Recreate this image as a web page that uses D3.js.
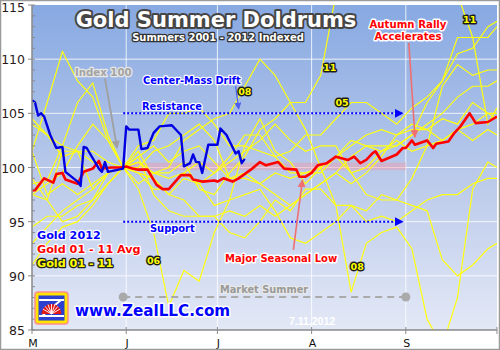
<!DOCTYPE html>
<html>
<head>
<meta charset="utf-8">
<script src="https://cdn.jsdelivr.net/npm/d3@7"></script>
<style>
  html, body { margin: 0; padding: 0; background: #fff; }
  svg { display: block; font-family: "DejaVu Sans", Verdana, sans-serif; }
</style>
</head>
<body>
<div id="chart"></div>
<script>
// ---- data -----------------------------------------------------------------
var yearDates = ["05/01","05/06","05/11","05/16","05/21","05/26","05/31","06/05",
  "06/10","06/15","06/20","06/25","06/30","07/05","07/10","07/15","07/20","07/25",
  "07/30","08/04","08/09","08/14","08/19","08/24","08/29","09/03","09/08","09/13",
  "09/18","09/23","09/28","10/01"];

var gold01 = [98.5,98.8,102,106,107.8,103,100,101,102,100.5,101.5,102,100.5,99,99.5,98.5,
  99.5,99,99.5,100,101,102.5,102,101.5,102.5,101.5,102,107.5,109.5,108.5,109,109];
var gold02 = [94.5,95.5,95.5,96.5,97,98.5,100,99.5,99,97.5,99,98.5,96.5,97,97.5,98,
  96,93.5,93,94,95,96.5,95,95.5,95,96,97,97.5,97.5,98.5,99,99];
var gold03 = [93,94.5,96,97,98,99.5,100,101.5,99,97.5,97,95.5,95.5,96,95.5,96.5,
  95.5,96.5,97.5,98.5,99.5,98.5,99.5,101,103,103.5,103.5,104.5,104,106,105,104.5];
var gold04 = [99,97,95,95.5,97,99.5,100,99.5,98,98,99.5,100.5,99.5,101,103,103,
  101,99.5,99.5,99.5,101,102,103,103.5,103,104,103.5,102.5,103.5,104,105,105];
var gold05 = [104.5,103,101,101.5,100.5,100,100,102,102.5,105,105,105.5,104,102,102,101.5,
  101,101.5,103,103,104.5,106,106,105,104,105.5,106.5,108,112,112,112,113];
var gold06 = [101.5,106,110.7,108,106.5,102.5,100,98,94,87.2,90.5,89.5,94,97,102,104.5,
  101.5,100.5,98.5,100,101,99.5,97.5,97,97,96.5,96,91.5,90,91,92.5,93];
var gold07 = [104,103,102,101.5,101.5,100.5,100,100.5,99.5,99,99.5,98.5,99.5,100.5,101.5,102.5,
  104,102.5,101.5,102,102,99.5,100,101.5,102,103,106,108,110.5,111,113,113.5];
var gold08 = [97.5,98.5,99.5,102,104,102.5,100,98.5,99.5,100,102.5,103.5,104.5,105,107.5,110,
  108.5,106,103.5,100,96.5,88.5,93,94,94.5,92.5,86,83.5,88,98,100.5,100];
var gold09 = [91,93,94.5,95,96.5,98.5,100,101,97.5,96,95.5,95.5,95.5,94,93.5,95,
  97,96,98,98,96.5,96.5,96,97.5,97,99,102,102.5,103.5,102.5,103.5,103];
var gold10 = [97.5,97,101.5,101.5,98,99.5,100,100,101.5,102,103,104,102.5,99,99,98.5,
  97.5,96.5,97.5,98.5,99.5,101,102,102,102,103,104,105,106.5,107.5,107.5,108];
var gold11 = [101.5,97.5,98.5,97.5,98.5,99.5,100,100.5,99.5,99.5,100.5,98,97.5,99.5,101,103.5,
  104.5,106,106,108.5,116,118,120,122,119,122,120,118,116,112,104,105.5];

var avgDates = ["05/01","05/02","05/05","05/08","05/09","05/11","05/12","05/16","05/18",
  "05/21","05/23","05/24","05/27","05/30","06/01","06/03","06/05","06/08","06/11","06/13",
  "06/15","06/19","06/22","06/23","06/26","06/30","07/01","07/03","07/06","07/08","07/12",
  "07/15","07/17","07/21","07/23","07/27","07/28","07/30","08/01","08/03","08/06","08/09",
  "08/13","08/15","08/17","08/19","08/21","08/22","08/24","08/29","08/31","09/01","09/03",
  "09/04","09/08","09/10","09/11","09/15","09/17","09/19","09/22","09/24","09/28","10/01"];
var avgValues = [97.9,97.9,99.0,98.6,99.4,99.5,98.9,98.5,99.6,99.9,100.6,99.9,100.0,100.0,
  100.1,99.9,99.8,99.8,98.4,98.0,98.0,99.3,99.3,98.9,98.7,98.8,98.7,99.0,98.7,99.0,99.8,
  100.5,100.2,100.5,99.9,99.8,99.15,99.15,99.5,100.2,100.4,101.0,100.7,101.0,100.4,100.7,
  101.3,101.5,100.6,101.2,101.8,101.8,102.5,102.1,102.5,101.8,102.2,102.4,103.2,103.8,
  105.0,104.1,104.2,104.7];

var g12Dates = ["05/01","05/02","05/03","05/04","05/05","05/07","05/09","05/11","05/12",
  "05/16","05/17","05/18","05/19","05/23","05/24","05/25","05/26","05/31","06/01","06/02",
  "06/05","06/06","06/08","06/10","06/12","06/16","06/19","06/20","06/22","06/23","06/24",
  "06/25","06/26","06/28","07/01","07/02","07/04","07/07","07/08","07/09","07/10"];
var g12Values = [106.2,106.0,104.8,105.0,104.7,103.0,101.8,101.9,99.6,98.7,98.3,101.9,101.8,
  99.9,99.6,100.5,99.6,99.9,103.8,103.5,103.5,101.7,101.8,103.2,103.8,103.9,103.0,100.1,
  100.4,101.2,100.5,100.5,99.5,102.1,102.1,103.6,103.0,101.3,101.5,100.4,100.8];

var yTicks = [85, 90, 95, 100, 105, 110, 115];
var monthTicks = ["05/01", "06/01", "07/01", "08/01", "09/01"];
var monthLabels = ["M", "J", "J", "A", "S"];

// year tags placed on the lines: [date, value, label]
var yearTags = [["07/10", 107.0, "08"], ["08/07", 109.2, "11"], ["08/11", 106.0, "05"],
  ["06/10", 91.4, "06"], ["08/16", 90.9, "08"], ["09/22", 113.7, "11"]];

// ---- chart ----------------------------------------------------------------
var W = 500, H = 350, M = { t: 5, r: 3, b: 20, l: 32 };
var parse = d3.timeParse("%m/%d");

var svg = d3.select("#chart").append("svg").attr("width", W).attr("height", H);
var defs = svg.append("defs");

var grad = defs.append("linearGradient").attr("id", "bg")
  .attr("x1", 0).attr("y1", 0).attr("x2", 0).attr("y2", 1);
grad.append("stop").attr("offset", "0%").attr("stop-color", "#87a9e2");
grad.append("stop").attr("offset", "55%").attr("stop-color", "#bccbeb");
grad.append("stop").attr("offset", "100%").attr("stop-color", "#e3e8f6");

defs.append("clipPath").attr("id", "plotclip").append("rect")
  .attr("x", M.l).attr("y", M.t).attr("width", W - M.r - M.l).attr("height", H - M.b - M.t);

function marker(id, col, size) {
  defs.append("marker").attr("id", id).attr("viewBox", "0 0 10 10")
    .attr("refX", 9).attr("refY", 5).attr("markerWidth", size).attr("markerHeight", size)
    .attr("markerUnits", "userSpaceOnUse").attr("orient", "auto")
    .append("path").attr("d", "M0,0L10,5L0,10Z").attr("fill", col);
}
marker("arBlue", "#0000ff", 9);
marker("arGray", "#a0a0a0", 8);
marker("arRed", "#ee7070", 8);
marker("arBlue2", "#4b5ef0", 7);

var x = d3.scaleTime().domain([parse("05/01"), parse("10/01")]).range([M.l, W - M.r]);
var y = d3.scaleLinear().domain([85, 115]).range([H - M.b, M.t]);

// plot background + grid
svg.append("rect").attr("x", M.l).attr("y", M.t)
  .attr("width", W - M.r - M.l).attr("height", H - M.b - M.t).attr("fill", "url(#bg)");

var grid = svg.append("g").attr("stroke", "#ffffff").attr("stroke-opacity", 0.8);
yTicks.slice(1, -1).forEach(function (v) {
  grid.append("line").attr("x1", M.l).attr("x2", W - M.r).attr("y1", y(v)).attr("y2", y(v));
});
monthTicks.slice(1).forEach(function (d) {
  grid.append("line").attr("x1", x(parse(d))).attr("x2", x(parse(d)))
    .attr("y1", M.t).attr("y2", H - M.b);
});

// pink "index 100" band
svg.append("rect").attr("x", x(parse("05/31"))).attr("y", y(100.45))
  .attr("width", x(parse("09/01")) - x(parse("05/31"))).attr("height", y(99.75) - y(100.45))
  .attr("fill", "#f09aa8").attr("fill-opacity", 0.45);

var plot = svg.append("g").attr("clip-path", "url(#plotclip)");

var years = [gold01, gold02, gold03, gold04, gold05, gold06, gold07, gold08, gold09, gold10, gold11];
var yLine = d3.line().x(function (d, i) { return x(parse(yearDates[i])); })
  .y(function (d) { return y(d); });
plot.selectAll("path.yr").data(years).enter().append("path").attr("class", "yr")
  .attr("d", yLine).attr("fill", "none").attr("stroke", "#ffff10").attr("stroke-width", 1.2);

// support / resistance
[105, 95].forEach(function (v) {
  svg.append("line").attr("x1", x(parse("05/31"))).attr("x2", x(parse("08/31")))
    .attr("y1", y(v)).attr("y2", y(v))
    .attr("stroke", "#0000ff").attr("stroke-width", 2).attr("stroke-dasharray", "2 2")
    .attr("marker-end", "url(#arBlue)");
});

var avgLine = d3.line().x(function (d, i) { return x(parse(avgDates[i])); })
  .y(function (d) { return y(d); });
plot.append("path").datum(avgValues).attr("d", avgLine).attr("fill", "none")
  .attr("stroke", "#ff0000").attr("stroke-width", 2.6).attr("stroke-linejoin", "round");

var g12Line = d3.line().x(function (d, i) { return x(parse(g12Dates[i])); })
  .y(function (d) { return y(d); });
plot.append("path").datum(g12Values).attr("d", g12Line).attr("fill", "none")
  .attr("stroke", "#0000e0").attr("stroke-width", 2.4).attr("stroke-linejoin", "round");

// axes
var ax = svg.append("g").attr("stroke", "#8a8a8a");
ax.append("line").attr("x1", M.l).attr("x2", M.l).attr("y1", M.t).attr("y2", H - M.b).attr("stroke-width", 1.5);
ax.append("line").attr("x1", M.l).attr("x2", W - M.r).attr("y1", H - M.b).attr("y2", H - M.b).attr("stroke-width", 1.5);
d3.range(85, 116).forEach(function (v) {
  var major = v % 5 === 0;
  ax.append("line").attr("x1", major ? M.l - 4 : M.l).attr("x2", M.l + 3)
    .attr("y1", y(v)).attr("y2", y(v));
});
monthTicks.concat(["10/01"]).forEach(function (d) {
  ax.append("line").attr("x1", x(parse(d))).attr("x2", x(parse(d)))
    .attr("y1", H - M.b - 3).attr("y2", H - M.b + 4);
});
svg.selectAll("text.yt").data(yTicks).enter().append("text").attr("class", "yt")
  .attr("x", 25).attr("y", function (d) { return Math.max(y(d) + 5, 12); })
  .attr("text-anchor", "end").attr("fill", "#2a1a1a").style("font-size", "12.5px").text(String);
svg.selectAll("text.xt").data(monthTicks).enter().append("text").attr("class", "xt")
  .attr("x", function (d) { return x(parse(d)) + 1; }).attr("y", 347)
  .attr("text-anchor", "middle").attr("fill", "#111").style("font-size", "11px")
  .text(function (d, i) { return monthLabels[i]; });

// ---- annotations ------------------------------------------------------------
function label(tx, ty, str, size, fill, stroke, sw, anchor) {
  return svg.append("text").attr("x", tx).attr("y", ty).text(str)
    .attr("text-anchor", anchor || "start").attr("fill", fill)
    .attr("stroke", stroke).attr("stroke-width", sw).attr("stroke-linejoin", "round")
    .attr("paint-order", "stroke").style("font-size", size + "px").style("font-weight", "bold");
}

function arrow(d0, v0, d1, v1, col, mk, w) {
  svg.append("line").attr("x1", x(parse(d0))).attr("y1", y(v0))
    .attr("x2", x(parse(d1))).attr("y2", y(v1))
    .attr("stroke", col).attr("stroke-width", w).attr("marker-end", "url(#" + mk + ")");
}
arrow("05/25", 108.2, "05/29", 101.8, "#a0a0a0", "arGray", 1.8);
arrow("07/07", 107.5, "07/08", 105.4, "#4b5ef0", "arBlue2", 1.2);
arrow("09/02", 111.5, "09/04", 102.8, "#ee7070", "arRed", 1.6);
arrow("07/26", 92.4, "07/29", 98.85, "#ee7070", "arRed", 1.6);

// market summer span
svg.append("line").attr("x1", x(parse("05/31"))).attr("x2", x(parse("09/01")))
  .attr("y1", y(88.05)).attr("y2", y(88.05))
  .attr("stroke", "#aaaaaa").attr("stroke-width", 2).attr("stroke-dasharray", "7 5");
["05/31", "09/01"].forEach(function (d) {
  svg.append("circle").attr("cx", x(parse(d))).attr("cy", y(88.05)).attr("r", 4.5).attr("fill", "#aaaaaa");
});

var title = label(216, 27, "Gold Summer Doldrums", 21, "#ffffff", "#454545", 4, "middle");
title.style("font-weight", "900");
label(218, 41, "Summers 2001 - 2012 Indexed", 10, "#ffffff", "#333333", 2.6, "middle");
label(75, 76, "Index 100", 10.2, "#a3a3a3", "#e6e6e6", 2.6);
label(143, 84, "Center-Mass Drift", 9.8, "#0000ff", "#ffffff", 2.4);
label(142, 110, "Resistance", 9.8, "#0000ff", "#ffffff", 2.4);
label(150, 232, "Support", 9.9, "#0000ff", "#ffffff", 2.4);
label(408, 28, "Autumn Rally", 10.2, "#ff0000", "#ffffff", 3, "middle");
label(408, 40, "Accelerates", 10.2, "#ff0000", "#ffffff", 3, "middle");
label(225, 262, "Major Seasonal Low", 10, "#ff0000", "#ffffff", 3);
label(220, 293, "Market Summer", 9.8, "#9a9a9a", "#e8e8e8", 2.6);

label(37, 239, "Gold 2012", 11.2, "#0000ff", "#ffffff", 2.4);
label(37, 253, "Gold 01 - 11 Avg", 11.2, "#ff0000", "#ffffff", 2.4);
label(37, 267, "Gold 01 - 11", 11.2, "#ffff00", "#222222", 2.6);

yearTags.forEach(function (t) {
  label(x(parse(t[0])), y(t[1]) + 3.5, t[2], 9.5, "#ffff00", "#1a1a1a", 2.8, "middle");
});

label(75, 316, "www.ZealLLC.com", 15.2, "#0000ff", "#ffffff", 3);
svg.append("text").attr("x", 289).attr("y", 325).text("7.11.2012")
  .attr("fill", "#ffffff").style("font-family", "'Liberation Sans', Arial, sans-serif")
  .style("font-size", "10.5px").style("font-weight", "bold");

// logo
var logo = svg.append("g").attr("transform", "translate(35,292)");
logo.append("rect").attr("width", 33).attr("height", 32).attr("rx", 3)
  .attr("fill", "#ffe400").attr("stroke", "#ff8c8c").attr("stroke-width", 1.5);
logo.append("rect").attr("x", 3.5).attr("y", 3.5).attr("width", 26).attr("height", 25).attr("fill", "#2b3fd0");
logo.append("path").attr("d", "M4,8L29,8M4,24L29,24M26,8L7,24").attr("stroke", "#ffffff").attr("stroke-width", 2);
logo.append("path").attr("d", d3.arc().innerRadius(0).outerRadius(10).startAngle(-Math.PI / 2).endAngle(Math.PI / 2)())
  .attr("transform", "translate(16.5,22)").attr("fill", "#e01818");
d3.range(-60, 61, 20).forEach(function (a) {
  var r = a * Math.PI / 180;
  logo.append("line").attr("x1", 16.5).attr("y1", 22)
    .attr("x2", 16.5 + 10 * Math.sin(r)).attr("y2", 22 - 10 * Math.cos(r))
    .attr("stroke", "#ffffff").attr("stroke-width", 0.9);
});

// frame
svg.append("rect").attr("x", 0.5).attr("y", 0.5).attr("width", W - 1).attr("height", H - 1)
  .attr("fill", "none").attr("stroke", "#9a9a9a").attr("stroke-width", 1.5);
</script>
</body>
</html>
